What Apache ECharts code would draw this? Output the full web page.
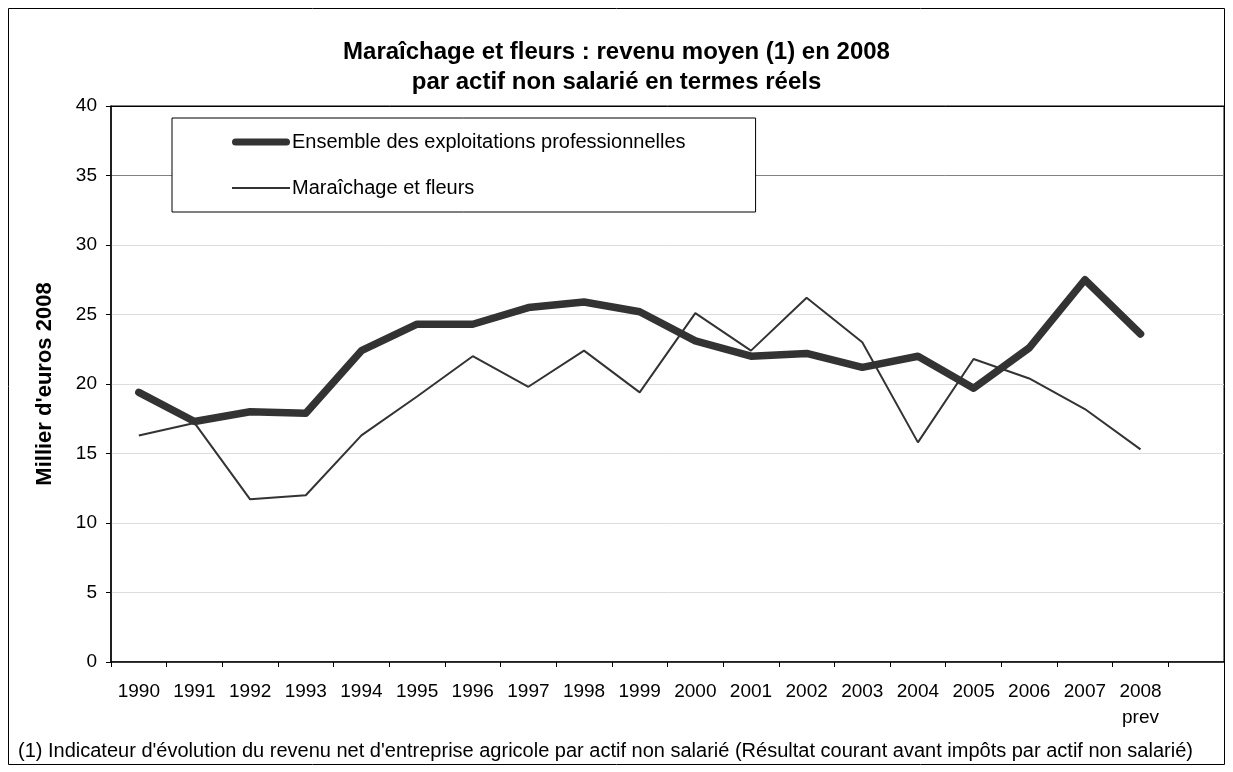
<!DOCTYPE html>
<html>
<head>
<meta charset="utf-8">
<script src="https://cdn.jsdelivr.net/npm/echarts@6/dist/echarts.min.js"></script>
<style>
  html, body { margin: 0; padding: 0; background: #fff; }
  #chart { width: 1233px; height: 772px; }
</style>
</head>
<body>
<div id="chart"></div>
<script>
	// categories (last one is an empty slot, as on the original axis)
	var years = ['1990','1991','1992','1993','1994','1995','1996','1997','1998','1999',
		'2000','2001','2002','2003','2004','2005','2006','2007','2008\nprev',''];
	// Ensemble des exploitations professionnelles
	var ensemble = [19.4, 17.3, 18.0, 17.9, 22.4, 24.3, 24.3, 25.5, 25.9, 25.2,
		23.1, 22.0, 22.2, 21.2, 22.0, 19.7, 22.6, 27.5, 23.6];
	// Maraichage et fleurs
	var maraichage = [16.3, 17.2, 11.7, 12.0, 16.3, 19.1, 22.0, 19.8, 22.4, 19.4,
		25.1, 22.4, 26.2, 23.0, 15.8, 21.8, 20.4, 18.2, 15.3];
	var yTicks = [0, 5, 10, 15, 20, 25, 30, 35, 40];

	var font = "'Liberation Sans', Arial, sans-serif";
	// legend icons: a bar inside a 58x14 box (the leading moves fix the box size)
	var iconThick = 'path://M0,0M58,14M3.5,3.5h51a3.5,3.5 0 0 1 0,7h-51a3.5,3.5 0 0 1 0,-7z';
	var iconThin = 'path://M0,0M58,14M0,6h58v2h-58z';

	var myChart = echarts.init(document.getElementById('chart'));
	var option = {
		animation: false,
		backgroundColor: '#fff',
		textStyle: { fontFamily: font, color: '#000' },
		title: [
			{
				text: 'Maraîchage et fleurs : revenu moyen (1) en 2008\npar actif non salarié en termes réels',
				left: 'center',
				top: 32,
				textStyle: { fontFamily: font, fontSize: 24, fontWeight: 'bold', color: '#000', lineHeight: 30 }
			},
			{
				text: "(1) Indicateur d'évolution du revenu net d'entreprise agricole par actif non salarié (Résultat courant avant impôts par actif non salarié)",
				left: 13,
				top: 736,
				textStyle: { fontFamily: font, fontSize: 20, fontWeight: 'normal', color: '#000' }
			}
		],
		graphic: [{
			type: 'rect',
			shape: { x: 8.5, y: 8.5, width: 1216, height: 756 },
			style: { fill: 'none', stroke: '#000', lineWidth: 1 },
			silent: true
		}],
		legend: {
			orient: 'vertical',
			left: 172,
			top: 118,
			padding: [14, 70, 14, 60],
			itemGap: 26,
			itemWidth: 58,
			itemHeight: 14,
			backgroundColor: '#fff',
			borderColor: '#000',
			borderWidth: 1,
			z: 10,
			textStyle: { fontFamily: font, fontSize: 20, color: '#000', padding: [0, 0, 0, -3] },
			data: [
				{ name: 'Ensemble des exploitations professionnelles', icon: iconThick },
				{ name: 'Maraîchage et fleurs', icon: iconThin }
			]
		},
		grid: {
			left: 111, right: 9, top: 106, bottom: 110,
			show: true, borderColor: '#000', borderWidth: 1
		},
		xAxis: {
			type: 'category',
			data: years,
			boundaryGap: true,
			axisLine: { lineStyle: { color: '#000', width: 1.5 } },
			axisTick: { show: true, interval: 0, length: 5, lineStyle: { color: '#000' } },
			axisLabel: { interval: 0, fontFamily: font, fontSize: 19, color: '#000', margin: 17, lineHeight: 26 },
			splitLine: { show: false }
		},
		yAxis: {
			type: 'value',
			min: yTicks[0],
			max: yTicks[yTicks.length - 1],
			interval: 5,
			name: "Millier d'euros 2008",
			nameLocation: 'middle',
			nameGap: 55,
			nameRotate: 90,
			nameTextStyle: { fontFamily: font, fontSize: 22, fontWeight: 'bold', color: '#000' },
			axisLine: { show: true, lineStyle: { color: '#000', width: 1.5 } },
			axisTick: { show: true, length: 5, lineStyle: { color: '#000' } },
			axisLabel: { fontFamily: font, fontSize: 19, color: '#000', margin: 14 },
			splitLine: {
				show: true,
				lineStyle: { color: ['#ddd','#ddd','#ddd','#ddd','#ddd','#ddd','#ddd','#808080','#000'], width: 1 }
			}
		},
		series: [
			{
				name: 'Ensemble des exploitations professionnelles',
				type: 'line',
				data: ensemble,
				symbol: 'none',
				z: 3,
				lineStyle: { color: '#333', width: 7.5, cap: 'round', join: 'round' },
				itemStyle: { color: '#333' }
			},
			{
				name: 'Maraîchage et fleurs',
				type: 'line',
				data: maraichage,
				symbol: 'none',
				z: 2,
				lineStyle: { color: '#333', width: 2 },
				itemStyle: { color: '#333' }
			}
		]
	};
	myChart.setOption(option, true);
</script>
</body>
</html>
